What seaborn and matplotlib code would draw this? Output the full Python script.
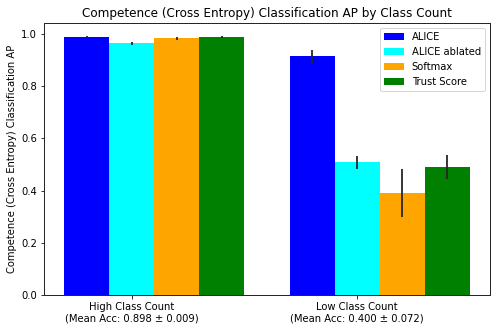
import numpy as np
import pandas as pd
import matplotlib
matplotlib.use("Agg")
import matplotlib.pyplot as plt
import seaborn as sns

groups = ["High Class Count\n(Mean Acc: 0.898 ± 0.009)", "Low Class Count\n(Mean Acc: 0.400 ± 0.072)"]
methods = ["ALICE", "ALICE ablated", "Softmax", "Trust Score"]
colors = ["blue", "cyan", "orange", "green"]
high_vals = [0.988, 0.964, 0.984, 0.988]
low_vals = [0.914, 0.508, 0.389, 0.492]
high_err = [0.005, 0.005, 0.006, 0.004]
low_err = [0.024, 0.024, 0.092, 0.046]

rows = []
for m, hv, lv, he, le in zip(methods, high_vals, low_vals, high_err, low_err):
    rows.append({"group": groups[0], "method": m, "ap": hv, "err": he})
    rows.append({"group": groups[1], "method": m, "ap": lv, "err": le})
df = pd.DataFrame(rows)

fig = plt.figure(figsize=(501/72, 332/72), dpi=72)
ax = fig.add_axes([44/501, (332-295)/332, (490-44)/501, (295-23)/332])

sns.barplot(data=df, x="group", y="ap", hue="method", order=groups, hue_order=methods,
            palette=colors, saturation=1, errorbar=None, width=0.8, linewidth=0, ax=ax)

# error bars at bar centres
for i, m in enumerate(methods):
    cont = ax.containers[i]
    sub = df[df.method == m].set_index("group").loc[groups]
    xs = [p.get_x() + p.get_width()/2 for p in cont.patches]
    ax.errorbar(xs, sub["ap"].values, yerr=sub["err"].values, fmt="none",
                ecolor="#262626", elinewidth=1.8, capsize=0)

ax.set_xlim(-0.489, 1.489)
ax.set_ylim(0, 1.042)
ax.set_xticks([-0.1, 0.9])
ax.set_xticklabels(groups, fontsize=10)
ax.set_yticks([0, 0.2, 0.4, 0.6, 0.8, 1.0])
ax.set_yticklabels(["0.0", "0.2", "0.4", "0.6", "0.8", "1.0"], fontsize=10)
ax.set_xlabel("")
ax.set_ylabel("Competence (Cross Entropy) Classification AP", fontsize=10)
ax.set_title("Competence (Cross Entropy) Classification AP by Class Count", fontsize=12)
for s in ax.spines.values():
    s.set_visible(True)
    s.set_color("#262626")
    s.set_linewidth(1)
ax.legend(loc="upper right", fontsize=10, frameon=True)
fig.savefig("out.png", dpi=72)
